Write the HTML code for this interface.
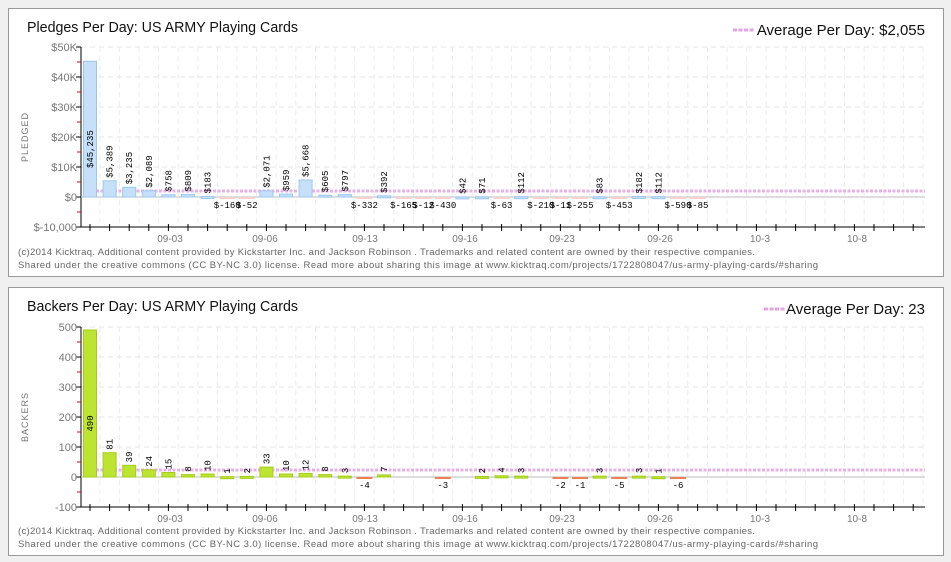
<!DOCTYPE html>
<html><head><meta charset="utf-8"><style>
body{margin:0;background:#f0f0f0;width:951px;height:562px;overflow:hidden;font-family:"Liberation Sans",sans-serif}
svg{position:absolute;left:0;top:0}
</style></head><body>
<svg id="s" width="951" height="562" xmlns="http://www.w3.org/2000/svg"></svg>
<script>
const S=document.getElementById('s');let h='';
function panel(y0,title,avgtxt,lx,yTop,yZero,yBot,ticks,tickFn,vals,avgY,isB,axisName){
 h+=`<rect x="8.5" y="${y0+0.5}" width="935" height="268" fill="#fff" stroke="#999"/>`;
 h+=`<text x="27" y="${y0+24}" font-size="15" textLength="271" lengthAdjust="spacingAndGlyphs" fill="#111">${title}</text>`;
 h+=`<line x1="${lx}" x2="${lx+22}" y1="${y0+22}" y2="${y0+22}" stroke="#e8a0e8" stroke-width="3" stroke-dasharray="4,1.5"/>`;
 h+=`<text x="925" y="${y0+27}" font-size="15" text-anchor="end" fill="#111">${avgtxt}</text>`;
 for(let i=0;i<6;i++){let y=yTop+i*30;h+=`<line x1="81" x2="925" y1="${y}" y2="${y}" stroke="#e6e6e6" stroke-dasharray="5,4"/>`;}
 for(let i=0;i<43;i++){let x=90+i*19.6+9.8;h+=`<line x1="${x}" x2="${x}" y1="${yTop}" y2="${yBot}" stroke="#ececec" stroke-dasharray="5,4"/>`;}
 h+=`<line x1="81" x2="81" y1="${yTop}" y2="${yBot}" stroke="#000"/>`;
 h+=`<line x1="81" x2="925" y1="${yBot}" y2="${yBot}" stroke="#000"/>`;
 for(let i=0;i<=6;i++){let y=yTop+i*30;h+=`<line x1="76" x2="81" y1="${y}" y2="${y}" stroke="#000"/>`;h+=`<text x="77" y="${y+4}" font-size="11" fill="#777" text-anchor="end">${ticks[i]}</text>`;if(i<6)h+=`<line x1="77" x2="81" y1="${y+15}" y2="${y+15}" stroke="#e00"/>`;}
 for(let i=0;i<43;i++){let x=90+i*19.6;h+=`<line x1="${x}" x2="${x}" y1="${yBot-3}" y2="${yBot+4}" stroke="#000"/>`;}
 const dl=[["09-03",170],["09-06",265],["09-13",365],["09-16",465],["09-23",562],["09-26",660],["10-3",760],["10-8",857]];
 dl.forEach(d=>h+=`<text x="${d[1]}" y="${yBot+15}" font-size="10" fill="#777" text-anchor="middle">${d[0]}</text>`);
 h+=`<text x="28" y="${(yTop+yBot)/2}" font-size="9" fill="#777" text-anchor="middle" letter-spacing="1" transform="rotate(-90 28 ${(yTop+yBot)/2})">${axisName}</text>`;
 h+=`<line x1="81" x2="925" y1="${yZero}" y2="${yZero}" stroke="#bbb"/>`;
 h+=`<line x1="96" x2="925" y1="${avgY}" y2="${avgY}" stroke="#e8b0e8" stroke-width="3" stroke-dasharray="3,1.5"/>`;
 vals.forEach((v,i)=>{if(v===null)return;let x=90+i*19.6;let hp=tickFn(v);
  if(v>=0){let fill=isB?'#bde433':'#c6e0fa',st=isB?'#a4cc1c':'#9cc8f0';
   h+=`<rect x="${x-6.5}" y="${yZero-hp}" width="13" height="${Math.max(hp,2)}" fill="${fill}" stroke="${st}"/>`;
   let lbl=isB?v:'$'+v.toLocaleString('en-US');
   if(i==0){h+=`<text x="${x+3}" y="${yZero-hp/2+20}" font-size="9" font-family="Liberation Mono" transform="rotate(-90 ${x+3} ${yZero-hp/2+20})" text-anchor="middle">${lbl}</text>`;}
   else{let ty=yZero-hp-3;h+=`<text x="${x+3}" y="${ty}" font-size="9" font-family="Liberation Mono" transform="rotate(-90 ${x+3} ${ty})">${lbl}</text>`;}
  } else {
   let fill=isB?'#f08050':'#f8d0d0';
   h+=`<rect x="${x-8}" y="${yZero}" width="16" height="${Math.max(-hp,2)}" fill="${fill}"/>`;
   let lbl=isB?v:'$'+v;
   h+=`<text x="${x}" y="${yZero+11}" font-size="9" font-family="Liberation Mono" text-anchor="middle">${lbl}</text>`;
  }});
 h+=`<text x="18" y="${y0+247}" font-size="9.5" fill="#666" textLength="737" lengthAdjust="spacing">(c)2014 Kicktraq. Additional content provided by Kickstarter Inc. and  Jackson Robinson . Trademarks and related content are owned by their respective companies.</text>`;
 h+=`<text x="18" y="${y0+260}" font-size="9.5" fill="#666" textLength="800" lengthAdjust="spacing">Shared under the creative commons (CC BY-NC 3.0) license. Read more about sharing this image at www.kicktraq.com/projects/1722808047/us-army-playing-cards/#sharing</text>`;
}
const pv=[45235,5389,3235,2089,758,809,183,-160,-52,2071,959,5668,605,797,-332,392,-165,-12,-430,42,71,-63,112,-210,-11,-255,83,-453,182,112,-590,-85];
panel(8,"Pledges Per Day: US ARMY Playing Cards","Average Per Day:  $2,055",733,47,197,227,["$50K","$40K","$30K","$20K","$10K","$0","$-10,000"],v=>v*0.003,pv,191,false,"PLEDGED");
const bv=[490,81,39,24,15,8,10,1,2,33,10,12,8,3,-4,7,null,null,-3,null,2,4,3,null,-2,-1,3,-5,3,1,-6];
panel(287,"Backers Per Day: US ARMY Playing Cards","Average Per Day: 23",764,327,477,507,["500","400","300","200","100","0","-100"],v=>v*0.3,bv,470,true,"BACKERS");
S.innerHTML=h;
</script>
</body></html>
